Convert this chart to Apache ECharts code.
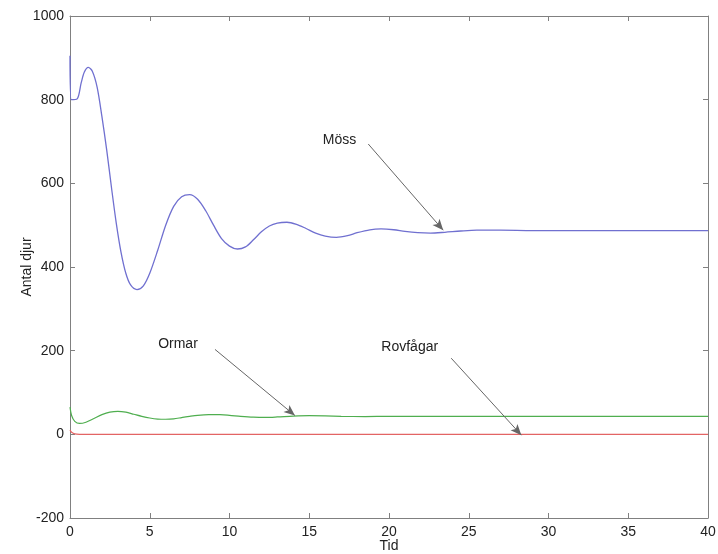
<!DOCTYPE html>
<html>
<head>
<meta charset="utf-8">
<script src="https://cdn.jsdelivr.net/npm/echarts@6/dist/echarts.min.js"></script>
<style>
html,body{margin:0;padding:0;background:#fff;}
#c{width:718px;height:554px;}
</style>
</head>
<body>
<div id="c"></div>
<script>
// ---- data ----
var xTicks = [0, 5, 10, 15, 20, 25, 30, 35, 40];
var yTicks = [-200, 0, 200, 400, 600, 800, 1000];

var tMice = [0, 0.08, 0.45, 0.7, 0.9, 1.15, 1.4, 1.7, 2.0, 2.3, 2.6, 2.9, 3.2, 3.5, 3.8, 4.2, 4.6, 5.0, 5.5, 6.0, 6.5, 7.0, 7.5, 8.0, 8.5, 9.0, 9.5, 10.0, 10.5, 11.0, 11.5, 12.0, 12.5, 13.0, 13.6, 14.2, 14.8, 15.4, 16.0, 16.7, 17.4, 18.0, 18.8, 19.5, 20.3, 21.0, 21.8, 22.6, 23.5, 24.5, 25.5, 27, 29, 32, 36, 40];
var mice  = [905, 800, 802, 840, 866, 877, 868, 830, 760, 680, 590, 505, 435, 385, 357, 346, 355, 385, 440, 500, 545, 568, 573, 562, 535, 500, 468, 450, 443, 448, 465, 484, 498, 505, 507, 502, 492, 481, 474, 471, 475, 482, 489, 491, 489, 485, 482, 481, 483, 486, 488, 488, 487, 487, 487, 487];

var tSnakes = [0, 0.1, 0.3, 0.6, 1.0, 1.5, 2.0, 2.5, 3.0, 3.5, 4.0, 4.5, 5.0, 5.5, 6.0, 6.5, 7.0, 7.5, 8.0, 8.7, 9.4, 10.0, 10.7, 11.5, 12.3, 13.0, 14.0, 15.0, 16.0, 17.0, 18.5, 20, 25, 30, 40];
var snakes  = [65, 45, 31, 26, 29, 38, 47, 53, 55, 53, 48, 43, 39, 36.5, 36, 37, 40, 43, 45.5, 47, 47, 45.5, 43, 41, 40.5, 41.5, 43.5, 44.5, 44, 43, 42.5, 43, 43, 43, 43];

var tBirds = [0, 0.1, 0.3, 0.6, 40];
var birds  = [10, 5, 1, 0, 0];

// annotations: label, text position, arrow start, arrow end (data units)
var noteLabels = ['Möss', 'Ormar', 'Rovfågar'];
var noteText   = [[16.9, 703], [6.77, 215], [21.3, 208]];
var noteFrom   = [[18.7, 694], [9.09, 203], [23.9, 182]];
var noteTo     = [[23.4, 488], [14.1, 45], [28.3, -2]];

// ---- chart ----
function zip(a, b) { return a.map(function (v, i) { return [v, b[i]]; }); }

var font = "'Liberation Sans', Arial, sans-serif";
var axisGray = '#808080';
var fs = 14;

var arrows = noteLabels.map(function (n, i) {
  return [
    { coord: noteFrom[i], symbol: 'none' },
    { coord: noteTo[i], symbol: 'arrow', symbolSize: [7, 11] }
  ];
});
var texts = noteLabels.map(function (n, i) {
  return { name: n, coord: noteText[i] };
});

var xBase = {
  type: 'value', min: xTicks[0], max: xTicks[xTicks.length - 1], interval: 5,
  splitLine: { show: false },
  axisLine: { show: true, onZero: false, lineStyle: { color: axisGray, width: 1 } },
  axisTick: { show: true, inside: true, length: 5, lineStyle: { color: axisGray } }
};
var yBase = {
  type: 'value', min: yTicks[0], max: yTicks[yTicks.length - 1], interval: 200,
  splitLine: { show: false },
  axisLine: { show: true, onZero: false, lineStyle: { color: axisGray, width: 1 } },
  axisTick: { show: true, inside: true, length: 5, lineStyle: { color: axisGray } }
};

var option = {
  animation: false,
  backgroundColor: '#ffffff',
  textStyle: { fontFamily: font },
  grid: { left: 70, right: 10, top: 16, bottom: 36, containLabel: false, outerBoundsMode: 'none' },
  xAxis: [
    Object.assign({}, xBase, {
      position: 'bottom',
      name: 'Tid', nameLocation: 'middle', nameGap: 21, nameMoveOverlap: false,
      nameTextStyle: { color: '#222', fontSize: fs, fontFamily: font },
      axisLabel: { color: '#222', fontSize: fs, margin: 7, fontFamily: font, formatter: function (v) { return String(v); } }
    }),
    Object.assign({}, xBase, { position: 'top', axisLabel: { show: false } })
  ],
  yAxis: [
    Object.assign({}, yBase, {
      position: 'left',
      name: 'Antal djur', nameLocation: 'middle', nameGap: 36, nameRotate: 90, nameMoveOverlap: false,
      nameTextStyle: { color: '#222', fontSize: fs, fontFamily: font },
      axisLabel: { color: '#222', fontSize: fs, margin: 6, fontFamily: font, formatter: function (v) { return String(v); } }
    }),
    Object.assign({}, yBase, { position: 'right', axisLabel: { show: false } })
  ],
  series: [
    {
      name: 'Möss', type: 'line', data: zip(tMice, mice),
      showSymbol: false, smooth: 0.3,
      lineStyle: { color: '#7070d0', width: 1.3 }, itemStyle: { color: '#7070d0' },
      silent: true,
      markLine: {
        silent: true, animation: false,
        label: { show: false },
        lineStyle: { color: '#666666', width: 1, type: 'solid' },
        emphasis: { disabled: true },
        data: arrows
      },
      markPoint: {
        silent: true, animation: false,
        symbol: 'circle', symbolSize: 1,
        itemStyle: { color: 'rgba(0,0,0,0)' },
        label: { show: true, position: 'inside', formatter: '{b}', color: '#222', fontSize: fs, fontFamily: font },
        data: texts
      }
    },
    {
      name: 'Ormar', type: 'line', data: zip(tSnakes, snakes),
      showSymbol: false, smooth: 0.3,
      lineStyle: { color: '#4fae4f', width: 1.2 }, itemStyle: { color: '#4fae4f' },
      silent: true
    },
    {
      name: 'Rovfåglar', type: 'line', data: zip(tBirds, birds),
      showSymbol: false, smooth: 0.3,
      lineStyle: { color: '#e36464', width: 1.2 }, itemStyle: { color: '#e36464' },
      silent: true
    }
  ]
};

var chart = echarts.init(document.getElementById('c'), null, { renderer: 'canvas' });
chart.setOption(option);
</script>
</body>
</html>
